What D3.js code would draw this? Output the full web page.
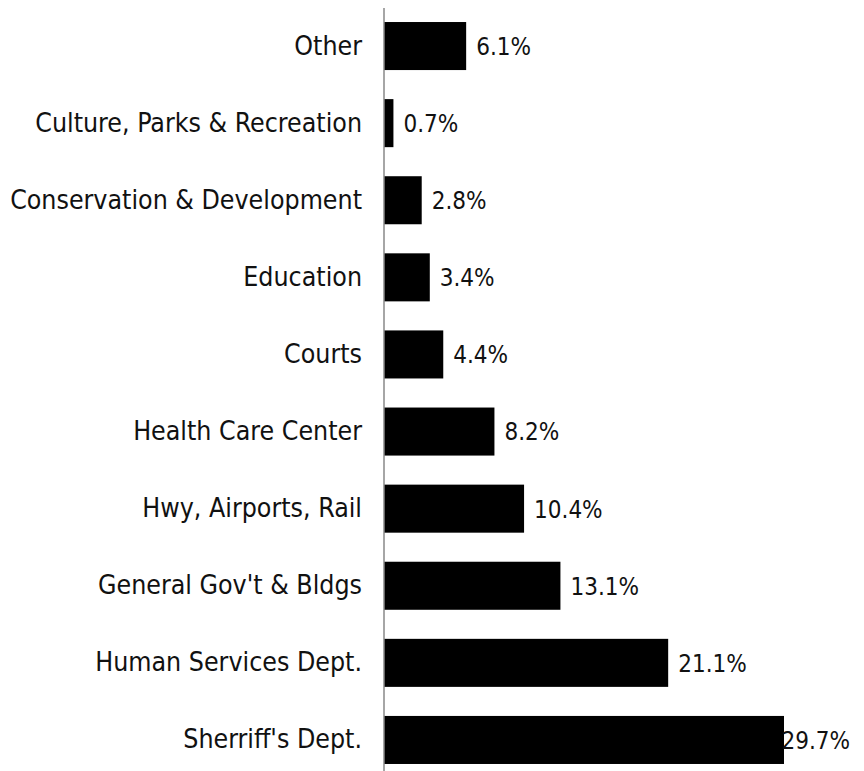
<!DOCTYPE html>
<html>
<head>
<meta charset="utf-8">
<script src="https://cdn.jsdelivr.net/npm/d3@7"></script>
<style>
  html, body { margin: 0; padding: 0; background: #fff; }
  svg text { font-family: "DejaVu Sans Condensed", "DejaVu Sans", sans-serif; fill: #111; }
</style>
</head>
<body>
<svg id="chart" width="864" height="771"></svg>
<script>
// Share of spending by department (percent)
const categories = [
  "Other",
  "Culture, Parks & Recreation",
  "Conservation & Development",
  "Education",
  "Courts",
  "Health Care Center",
  "Hwy, Airports, Rail",
  "General Gov't & Bldgs",
  "Human Services Dept.",
  "Sherriff's Dept."
];
const values = [6.1, 0.7, 2.8, 3.4, 4.4, 8.2, 10.4, 13.1, 21.1, 29.7];
const valueLabels = ["6.1%", "0.7%", "2.8%", "3.4%", "4.4%", "8.2%", "10.4%", "13.1%", "21.1%", "29.7%"];

const svg = d3.select("#chart");
const W = 864, H = 771;
const axisX = 384, axisTop = 8;
const labelSize = 26.5, valueSize = 24;

const x = d3.scaleLinear()
  .domain([0, 29.7])
  .range([axisX, axisX + 400]);

const y = d3.scaleBand()
  .domain(categories)
  .range([6.6, 779.4])
  .paddingInner(0.377)
  .paddingOuter(0.2);

// bars
svg.append("g")
  .selectAll("rect")
  .data(categories)
  .join("rect")
  .attr("x", x(0))
  .attr("y", d => y(d))
  .attr("width", (d, i) => x(values[i]) - x(0))
  .attr("height", y.bandwidth())
  .attr("fill", "#000");

// category axis
const yAxis = d3.axisLeft(y).tickSize(0).tickPadding(22);
const gy = svg.append("g")
  .attr("transform", `translate(${axisX},0)`)
  .call(yAxis);
gy.select(".domain")
  .attr("d", `M0,${axisTop}V${H}`)
  .attr("stroke", "#888")
  .attr("stroke-width", 1.5);
gy.selectAll(".tick text")
  .style("font-size", labelSize + "px")
  .attr("fill", "#111");

// value labels, kept inside the right edge
const limit = W - 14;
svg.append("g")
  .selectAll("text")
  .data(categories)
  .join("text")
  .attr("y", d => y(d) + y.bandwidth() / 2)
  .attr("dy", "0.37em")
  .style("font-size", valueSize + "px")
  .text((d, i) => valueLabels[i])
  .each(function (d, i) {
    const w = this.getComputedTextLength();
    const px = Math.min(x(values[i]) + 10, limit - w);
    d3.select(this).attr("x", px);
  });
</script>
</body>
</html>
